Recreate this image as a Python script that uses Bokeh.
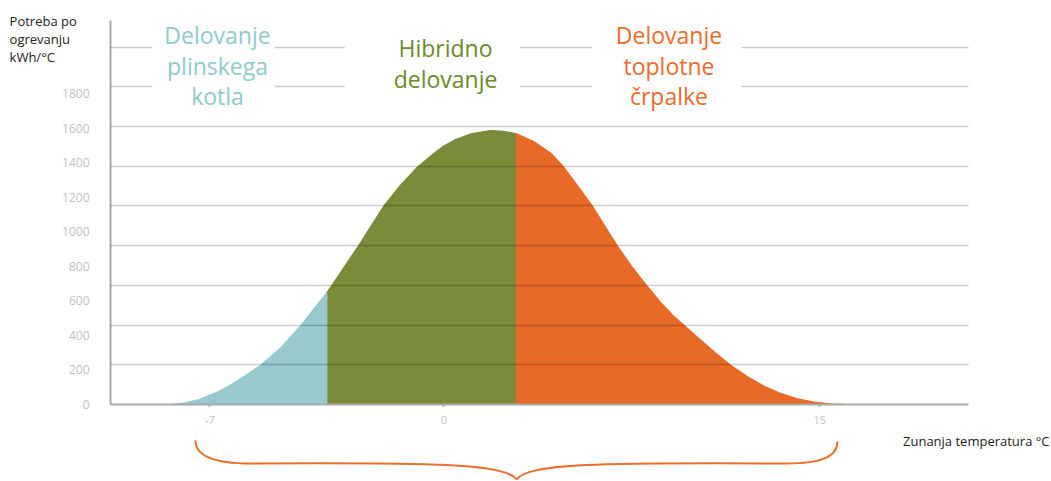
from bokeh.plotting import figure
from bokeh.models import Range1d, FixedTicker, Grid, Label, LinearAxis
from bokeh.embed import file_html
from bokeh.resources import INLINE
import numpy as np

# ---------------- data ----------------
# outdoor temperature (deg C) and heating demand (kWh/degC); the picture draws
# the part left of 0 deg C on a wider scale than the part right of it
temps_cold = [-8.18, -7.73, -7.28, -6.83, -6.38, -5.93, -5.48, -4.88, -4.28, -3.84, -3.5,
              -3.36, -2.94, -2.55, -2.19, -1.79, -1.30, -0.80, -0.30, 0.0]
demand_cold = [0, 9, 32, 67, 113, 168, 227, 327, 456, 564, 648,
               685, 807, 919, 1029, 1150, 1268, 1372, 1453, 1496]
temps_warm = [0.0, 0.47, 1.06, 1.86, 2.38, 2.9, 3.58, 4.26, 4.76, 5.34, 5.92, 6.41, 6.92,
              7.49, 8.11, 8.64, 9.16, 9.60, 10.24, 10.84, 11.44, 12.10, 12.76, 13.43, 14.10,
              14.76, 15.42, 16.09]
demand_warm = [1496, 1534, 1566, 1586, 1581, 1567, 1522, 1456, 1378, 1266, 1150, 1036, 919,
               799, 685, 593, 512, 456, 374, 298, 227, 162, 107, 64, 33,
               14, 4, 0]

gas_limit = -3.5   # gas boiler only below this temperature
hp_limit = 2.9     # heat pump only above this temperature

y_ticks = [0, 200, 400, 600, 800, 1000, 1200, 1400, 1600, 1800]
grid_levels = [200, 400, 600, 800, 1000, 1200, 1400, 1600, 1800]
x_ticks_cold = [-7, 0]
x_ticks_warm = [15]
x_tick_text = {-7: "-7", 0: "0", 15: "15"}

mode_titles = ["Delovanje\nplinskega\nkotla", "Hibridno\ndelovanje", "Delovanje\ntoplotne\nčrpalke"]
y_title = "Potreba po\nogrevanju\nkWh/°C"
x_title = "Zunanja temperatura °C"

# ---------------- layout / style constants ----------------
W, H = 1051, 481
X_COLD = (-13.261, 18.178)      # whole-canvas x range, scale left of 0
X_WARM = (-17.683, 24.240)      # whole-canvas x range, scale right of 0
Y_MAIN = (-445.7, 2338.4)       # whole-canvas y range (tick-label spacing)
Y_GRID = (-387.7, 2034.2)       # whole-canvas y range (gridline spacing)
AXIS_X_COLD = (-9.970, 15.696)  # extent of the plotting area, cold units
AXIS_Y_TOP = 2222.6

# decorative brace (cubic bezier pieces, warm-scale x units)
brace_x0 = [-9.905, -7.711, 2.900, 13.628]
brace_y0 = [-208.4, -341.5, -434.1, -341.5]
brace_x1 = [-7.711, 2.900, 13.628, 15.703]
brace_y1 = [-341.5, -434.1, -341.5, -214.2]
brace_cx0 = [-9.905, -0.531, 3.299, 15.104]
brace_cy0 = [-295.2, -335.7, -341.5, -341.5]
brace_cx1 = [-9.23, 2.500, 6.251, 15.703]
brace_cy1 = [-341.5, -341.5, -335.7, -301.0]

BLUE = "#97c9cd"
GREEN = "#7a8b3a"
ORANGE = "#e86a27"
T_BLUE = "#8ecbcb"
T_GREEN = "#6c8a2c"
T_ORANGE = "#ec6b2b"
AXIS_GRAY = "#a9a9a9"
LABEL_GRAY = "#c2c2c2"
FONT = "Open Sans"

p = figure(width=W, height=H, output_backend="svg", toolbar_location=None,
           x_range=Range1d(*X_COLD), y_range=Range1d(*Y_MAIN),
           x_axis_location=None, y_axis_location=None,
           min_border_left=0, min_border_right=0, min_border_top=0, min_border_bottom=0)
p.extra_x_ranges = {"warm": Range1d(*X_WARM)}
p.extra_y_ranges = {"grid": Range1d(*Y_GRID)}
p.outline_line_color = None
p.background_fill_color = "white"
p.border_fill_color = "white"
for g in p.xgrid + p.ygrid:
    g.visible = False

# ---------------- axes ----------------
yax = LinearAxis(ticker=FixedTicker(ticks=y_ticks), fixed_location=AXIS_X_COLD[0],
                 bounds=(0, AXIS_Y_TOP))
yax.axis_line_color = AXIS_GRAY
yax.axis_line_width = 2
yax.major_tick_line_color = None
yax.minor_tick_line_color = None
yax.major_label_text_color = LABEL_GRAY
yax.major_label_text_font = FONT
yax.major_label_text_font_size = "12px"
yax.major_label_standoff = 15
p.add_layout(yax, "left")

for ticks, rn, line_col, bounds in [(x_ticks_cold, "default", AXIS_GRAY, AXIS_X_COLD),
                                    (x_ticks_warm, "warm", None, "auto")]:
    xax = LinearAxis(ticker=FixedTicker(ticks=ticks), fixed_location=0, x_range_name=rn,
                     bounds=bounds)
    xax.major_label_overrides = {t: x_tick_text[t] for t in ticks}
    xax.axis_line_color = line_col
    xax.axis_line_width = 2
    xax.major_tick_line_color = "#b0b0b0"
    xax.major_tick_line_width = 3
    xax.major_tick_out = 2
    xax.major_tick_in = 0
    xax.minor_tick_line_color = None
    xax.major_label_text_color = LABEL_GRAY
    xax.major_label_text_font = FONT
    xax.major_label_text_font_size = "11px"
    xax.major_label_standoff = 10
    p.add_layout(xax, "below")

# ---------------- gridlines (own spacing) ----------------
if "cross_bounds" in Grid.properties():
    p.add_layout(Grid(dimension=1, ticker=FixedTicker(ticks=grid_levels), y_range_name="grid",
                      cross_bounds=AXIS_X_COLD, grid_line_color="black", grid_line_alpha=0.2,
                      grid_line_width=1.6, level="guide"), "center")
else:
    p.segment(x0=[AXIS_X_COLD[0]] * len(grid_levels), x1=[AXIS_X_COLD[1]] * len(grid_levels),
              y0=grid_levels, y1=grid_levels, y_range_name="grid",
              line_color="black", line_alpha=0.2, line_width=1.6, level="guide")

# ---------------- areas ----------------
tc = np.array(temps_cold); dc = np.array(demand_cold)
tw = np.array(temps_warm); dw = np.array(demand_warm)


def area(t, d, color, rn="default"):
    xs = list(t) + [t[-1], t[0]]
    ys = list(d) + [0, 0]
    p.patch(x=xs, y=ys, fill_color=color, line_color=color, line_width=1.2, x_range_name=rn)


m = tc >= gas_limit
area(tc[m], dc[m], GREEN)
m = tw <= hp_limit
area(tw[m], dw[m], GREEN, "warm")
m = tc <= gas_limit
area(tc[m], dc[m], BLUE)
m = tw >= hp_limit
area(tw[m], dw[m], ORANGE, "warm")

# ---------------- brace ----------------
p.bezier(x0=brace_x0, y0=brace_y0, x1=brace_x1, y1=brace_y1,
         cx0=brace_cx0, cy0=brace_cy0, cx1=brace_cx1, cy1=brace_cy1,
         line_color="#e8702f", line_width=2, x_range_name="warm")

# ---------------- mode titles ----------------
title_specs = [
    (mode_titles[0], -6.889, "default", 1962, T_BLUE, dict(left=12, right=4, top=2, bottom=2)),
    (mode_titles[1], -0.451, "warm", 1974, T_GREEN, dict(left=49, right=23, top=2, bottom=2)),
    (mode_titles[2], 8.883, "warm", 1962, T_ORANGE, dict(left=24, right=19, top=2, bottom=2)),
]
for txt, x, rn, y, col, pad in title_specs:
    p.add_layout(Label(x=x, y=y, x_range_name=rn, text=txt, text_align="center",
                       text_baseline="middle", text_color=col, text_font=FONT,
                       text_font_size="23px", text_line_height=0.95,
                       background_fill_color="white", padding=pad))

# ---------------- axis titles ----------------
p.add_layout(Label(x=-12.99, y=2274.7, text=y_title, text_align="left", text_baseline="top",
                   text_color="#222222", text_font=FONT, text_font_size="13px",
                   text_line_height=1.02))
p.add_layout(Label(x=24.16, y=-208.4, x_range_name="warm", text=x_title, text_align="right",
                   text_baseline="middle", text_color="#222222", text_font=FONT,
                   text_font_size="13px"))

open("out.html", "w").write(file_html(p, INLINE))
